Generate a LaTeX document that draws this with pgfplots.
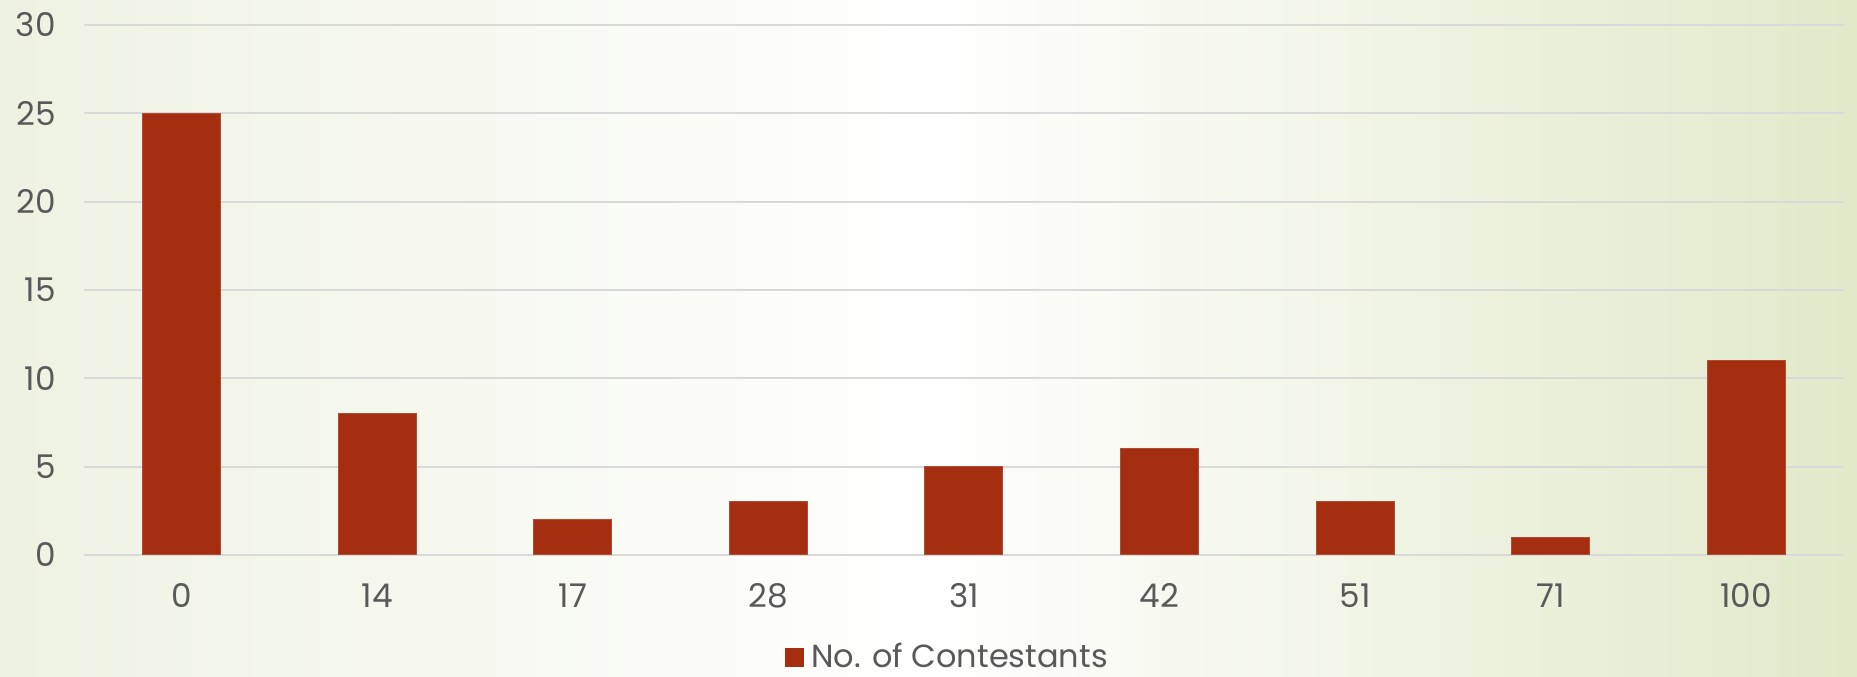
\documentclass[border=0pt]{standalone}
\usepackage{pgfplots}
\pgfplotsset{compat=1.18}
\usepackage{fontspec}
\setmainfont{Poppins}
\definecolor{barc}{HTML}{A52D10}
\definecolor{txt}{HTML}{595959}
\definecolor{gridc}{HTML}{D9D9D9}
\definecolor{bgL}{HTML}{EEF2E2}
\definecolor{bgR}{HTML}{E1E9C9}
\begin{document}
\begin{tikzpicture}
\path[use as bounding box] (0,0) rectangle (557.1pt,203.1pt);
\shade[left color=bgL, right color=bgR, middle color=white] (0,0) rectangle (557.1pt,203.1pt);
\begin{axis}[
  at={(25.2pt,36.6pt)}, anchor=south west,
  scale only axis, width=528pt, height=159pt,
  ybar, bar width=23.4pt,
  xmin=-0.5, xmax=8.5, ymin=0, ymax=30,
  xtick=data, xticklabels={0,14,17,28,31,42,51,71,100},
  ytick={0,5,...,30},
  axis line style={draw=none},
  major tick length=0pt,
  ymajorgrids, grid style={gridc, line width=0.6pt},
  tick label style={font=\fontsize{9.8}{11}\selectfont, text=txt},
  /pgf/number format/assume math mode=true,
  yticklabel style={xshift=-5pt},
  xticklabel style={yshift=-5pt},
  legend style={at={(axis description cs:0.492,-0.194)}, anchor=center, draw=none, fill=none,
    font=\fontsize{9.6}{11}\selectfont, text=txt, inner sep=0pt,
    /tikz/every even column/.append style={column sep=2pt}},
  legend image code/.code={\fill[barc] (0pt,-2.7pt) rectangle (5.4pt,2.7pt);},
]
\addplot[fill=barc, draw=barc!85!white, line width=0.3pt] coordinates {(0,25) (1,8) (2,2) (3,3) (4,5) (5,6) (6,3) (7,1) (8,11)};
\addlegendentry{No. of Contestants}
\end{axis}
\end{tikzpicture}
\end{document}
